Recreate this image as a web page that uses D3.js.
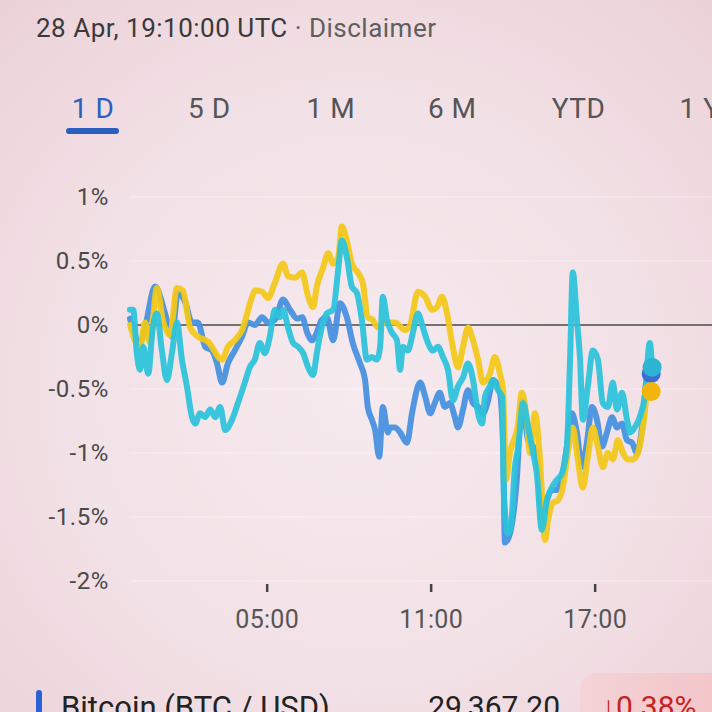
<!DOCTYPE html>
<html>
<head>
<meta charset="utf-8">
<script src="https://cdn.jsdelivr.net/npm/d3@7"></script>
<style>
  html, body { margin: 0; padding: 0; }
  body { width: 712px; height: 712px; overflow: hidden; font-family: Roboto, "Noto Sans", sans-serif; }
</style>
</head>
<body>
<div id="chart"></div>
<script>

// header + tabs
let headerDate = "28 Apr, 19:10:00 UTC"
let headerLink = " · Disclaimer"
let tabLabels = ["1 D", "5 D", "1 M", "6 M", "YTD", "1 Y"]

// axes
let yTicks = [1, 0.5, 0, -0.5, -1, -1.5, -2]
let xTickMinutes = [300, 660, 1020]
let xTickLabels = ["05:00", "11:00", "17:00"]

// [minutes since 00:00, % change]
let seriesBlue = [
  [0,0.05],[22,-0.14],[33,-0.02],[55,0.30],[77,0.09],[92,-0.09],[105,0.25],[121,0.18],[136,0.02],[149,0.02],
  [165,-0.17],[180,-0.20],[191,-0.30],[202,-0.45],[215,-0.30],[230,-0.20],[246,-0.09],[259,0.02],[274,0.00],[290,0.06],
  [303,0.02],[318,0.04],[336,0.20],[351,0.12],[367,0.05],[378,0.06],[389,-0.06],[400,-0.12],[410,-0.06],[421,0.04],
  [432,0.06],[446,-0.12],[461,0.17],[476,0.06],[489,-0.14],[505,-0.30],[516,-0.43],[522,-0.64],[531,-0.74],[538,-0.82],
  [547,-1.03],[555,-0.64],[566,-0.84],[571,-0.80],[582,-0.80],[593,-0.84],[608,-0.92],[619,-0.69],[637,-0.45],[648,-0.56],
  [659,-0.69],[669,-0.61],[680,-0.53],[691,-0.64],[702,-0.61],[713,-0.72],[720,-0.80],[731,-0.66],[742,-0.51],[753,-0.61],
  [764,-0.64],[775,-0.69],[786,-0.59],[797,-0.43],[812,-0.53],[819,-0.95],[823,-1.70],[834,-1.63],[849,-1.21],[860,-0.59],
  [874,-0.90],[885,-0.95],[896,-1.11],[904,-1.52],[915,-1.37],[926,-1.29],[937,-1.29],[948,-1.19],[959,-0.95],[970,-0.69],
  [981,-0.84],[992,-1.11],[1003,-0.92],[1014,-0.64],[1025,-0.74],[1036,-0.95],[1047,-0.84],[1058,-0.72],[1069,-0.80],[1080,-0.77],
  [1091,-0.90],[1102,-0.92],[1113,-1.00],[1124,-0.80],[1135,-0.41],[1144,-0.38]
]

let seriesYellow = [
  [0,0.00],[22,-0.18],[33,0.02],[44,-0.14],[59,0.29],[72,0.04],[88,-0.08],[103,0.29],[116,0.27],[132,-0.02],
  [149,-0.09],[171,-0.13],[202,-0.27],[215,-0.17],[230,-0.12],[246,-0.04],[268,0.22],[274,0.27],[290,0.26],[303,0.21],
  [318,0.33],[336,0.48],[347,0.38],[362,0.37],[378,0.41],[389,0.25],[402,0.14],[410,0.30],[424,0.45],[435,0.56],
  [446,0.48],[457,0.53],[465,0.77],[476,0.66],[487,0.48],[500,0.41],[511,0.33],[522,0.06],[533,0.04],[544,-0.02],
  [560,0.02],[582,0.02],[604,-0.04],[615,0.00],[632,0.26],[648,0.22],[663,0.12],[674,0.14],[685,0.22],[696,0.09],
  [707,-0.14],[720,-0.33],[731,-0.17],[742,-0.02],[753,-0.12],[764,-0.27],[775,-0.45],[790,-0.38],[801,-0.25],[812,-0.38],
  [819,-0.51],[825,-1.21],[834,-1.00],[852,-0.77],[860,-0.53],[871,-0.74],[878,-1.00],[889,-0.69],[900,-1.05],[911,-1.68],
  [918,-1.52],[928,-1.39],[939,-1.37],[950,-1.27],[961,-1.00],[972,-0.80],[983,-1.05],[994,-1.27],[1005,-1.03],[1016,-0.80],
  [1027,-0.95],[1038,-1.11],[1049,-1.00],[1060,-1.05],[1071,-0.90],[1082,-1.00],[1093,-1.05],[1104,-1.05],[1115,-1.00],[1126,-0.80],
  [1137,-0.51],[1144,-0.52]
]

let seriesCyan = [
  [0,0.12],[7,0.12],[15,-0.22],[22,-0.35],[29,-0.17],[40,-0.38],[50,-0.02],[59,0.09],[70,-0.20],[81,-0.43],
  [92,-0.22],[103,0.02],[114,-0.27],[125,-0.48],[136,-0.72],[143,-0.77],[154,-0.69],[165,-0.72],[176,-0.66],[187,-0.72],
  [198,-0.64],[209,-0.82],[224,-0.74],[237,-0.61],[252,-0.45],[263,-0.33],[274,-0.27],[285,-0.14],[296,-0.22],[307,-0.09],
  [318,0.12],[329,0.06],[336,0.12],[347,-0.02],[358,-0.14],[369,-0.17],[380,-0.22],[391,-0.33],[402,-0.39],[410,-0.22],
  [421,-0.02],[432,0.09],[446,0.12],[457,0.43],[465,0.66],[476,0.53],[487,0.30],[498,0.25],[509,0.04],[520,-0.27],
  [531,-0.25],[542,-0.27],[549,-0.17],[555,0.22],[564,0.04],[575,-0.06],[586,-0.12],[593,-0.35],[599,-0.17],[610,-0.20],
  [621,-0.06],[632,0.09],[643,-0.02],[654,-0.14],[665,-0.20],[676,-0.17],[687,-0.25],[698,-0.35],[709,-0.59],[720,-0.48],
  [731,-0.41],[742,-0.30],[753,-0.43],[764,-0.69],[773,-0.77],[779,-0.56],[790,-0.48],[797,-0.43],[808,-0.51],[817,-0.56],
  [821,-1.34],[830,-1.63],[836,-1.58],[845,-1.11],[852,-0.96],[863,-0.61],[874,-0.80],[885,-1.00],[893,-1.16],[904,-1.60],
  [915,-1.37],[926,-1.27],[937,-1.21],[948,-1.16],[959,-0.95],[966,-0.27],[972,0.41],[981,0.04],[988,-0.27],[994,-0.74],
  [1005,-0.48],[1016,-0.20],[1027,-0.27],[1038,-0.61],[1049,-0.64],[1060,-0.45],[1069,-0.66],[1080,-0.53],[1091,-0.74],[1098,-0.84],
  [1108,-0.80],[1119,-0.72],[1130,-0.56],[1141,-0.14],[1146,-0.33]
]

// bottom legend row
let legendName = "Bitcoin (BTC / USD)"
let legendPrice = "29,367.20"
let legendChange = "0.38%"

let W = 712, H = 712
let font = 'Roboto, "Noto Sans", sans-serif'

let svg = d3.select('#chart').append('svg')
  .attr('width', W).attr('height', H)
  .style('font-family', font)

let defs = svg.append('defs')
let grad = defs.append('radialGradient').attr('id', 'bg')
  .attr('cx', '0.5').attr('cy', '0.55').attr('r', '0.75')
grad.append('stop').attr('offset', '0%').attr('stop-color', '#f6eaee')
grad.append('stop').attr('offset', '55%').attr('stop-color', '#f2e1e6')
grad.append('stop').attr('offset', '100%').attr('stop-color', '#ebd1d8')

let pill = defs.append('linearGradient').attr('id', 'pill')
  .attr('x1', '0').attr('y1', '0').attr('x2', '1').attr('y2', '0')
pill.append('stop').attr('offset', '0%').attr('stop-color', '#f4d3d6')
pill.append('stop').attr('offset', '100%').attr('stop-color', '#f2c3c7')

defs.append('filter').attr('id', 'soft')
  .append('feGaussianBlur').attr('stdDeviation', 0.5)

svg.append('rect').attr('width', W).attr('height', H).attr('fill', 'url(#bg)')

// header
let head = svg.append('text').attr('x', 36).attr('y', 37)
  .style('font-size', '26px').style('letter-spacing', '0.5px')
head.append('tspan').attr('fill', '#3a3a3a').text(headerDate)
head.append('tspan').attr('fill', '#5f5f5f').text(headerLink)

// tabs
let tabX = d3.scalePoint().domain(tabLabels).range([93, 700])

svg.selectAll('text.tab')
  .data(tabLabels)
  .join('text')
  .attr('class', 'tab')
  .attr('x', (d, i) => tabX(d) - (i > 0 && i < 4 ? 5 : 0))
  .attr('y', 118)
  .attr('text-anchor', 'middle')
  .style('font-size', '28px')
  .style('letter-spacing', '0.5px')
  .attr('fill', (d, i) => i == 0 ? '#2c5fbd' : '#555')
  .text(d => d)

svg.append('rect')
  .attr('x', 66).attr('y', 128).attr('width', 53).attr('height', 6).attr('rx', 3)
  .attr('fill', '#2c5fbd')

// scales
let x = d3.scaleLinear().domain([0, 1440]).range([130, 786])
let y = d3.scaleLinear().domain([-2, 1]).range([581, 197])

// grid
svg.append('g').selectAll('line')
  .data(yTicks.filter(d => d != 0))
  .join('line')
  .attr('x1', 130).attr('x2', W)
  .attr('y1', d => y(d)).attr('y2', d => y(d))
  .attr('stroke', '#fbf5f7').attr('stroke-width', 1).attr('opacity', 0.6)

// y axis labels (plain hyphen minus like the app)
let yAxis = d3.axisLeft(y)
  .tickValues(yTicks)
  .tickSize(0)
  .tickPadding(21)
  .tickFormat(d => String(d) + '%')

let gy = svg.append('g').attr('transform', 'translate(130,0)').call(yAxis)
gy.select('.domain').remove()
gy.selectAll('text')
  .style('font-size', '24px')
  .style('letter-spacing', '0.6px')
  .style('font-family', font)
  .attr('fill', '#4a4a4a')

// zero line
svg.append('line')
  .attr('x1', 130).attr('x2', W)
  .attr('y1', y(0)).attr('y2', y(0))
  .attr('stroke', '#4a4a4a').attr('stroke-width', 1.5)

// x axis
let xAxis = d3.axisBottom(x)
  .tickValues(xTickMinutes)
  .tickSize(8)
  .tickPadding(18)
  .tickFormat((d, i) => xTickLabels[i])

let gx = svg.append('g').attr('transform', 'translate(0,584)').call(xAxis)
gx.select('.domain').remove()
gx.selectAll('.tick line').attr('stroke', '#444').attr('stroke-width', 2.5)
gx.selectAll('text')
  .style('font-size', '25px')
  .style('letter-spacing', '0.3px')
  .style('font-family', font)
  .attr('fill', '#555')

// lines
let line = d3.line()
  .x(d => x(d[0]))
  .y(d => y(d[1]))
  .curve(d3.curveMonotoneX)

let all_series = [
  {data: seriesBlue, color: '#4a91e0', dot: '#3c6fd6'},
  {data: seriesYellow, color: '#f2c81a', dot: '#f3b50c'},
  {data: seriesCyan, color: '#2ec3db', dot: '#2db4d4'}
]

svg.append('g').attr('filter', 'url(#soft)').selectAll('path')
  .data(all_series)
  .join('path')
  .attr('d', d => line(d.data))
  .attr('fill', 'none')
  .attr('stroke', d => d.color)
  .attr('stroke-width', 6)
  .attr('stroke-linejoin', 'round')
  .attr('stroke-linecap', 'round')
  .attr('opacity', 0.95)

// end dots
svg.append('g').selectAll('circle')
  .data(all_series)
  .join('circle')
  .attr('cx', d => x(d.data[d.data.length - 1][0]))
  .attr('cy', d => y(d.data[d.data.length - 1][1]))
  .attr('r', 9.5)
  .attr('fill', d => d.dot)

// legend row
svg.append('rect')
  .attr('x', 36).attr('y', 690).attr('width', 6).attr('height', 30).attr('rx', 3)
  .attr('fill', '#2a62d6')

svg.append('text')
  .attr('x', 61).attr('y', 718)
  .style('font-size', '31px')
  .attr('fill', '#222')
  .text(legendName)

svg.append('text')
  .attr('x', 560).attr('y', 717)
  .attr('text-anchor', 'end')
  .style('font-size', '30px')
  .attr('fill', '#222')
  .text(legendPrice)

svg.append('rect')
  .attr('x', 580).attr('y', 673).attr('width', 160).attr('height', 70).attr('rx', 16)
  .attr('fill', 'url(#pill)')

svg.append('text')
  .attr('x', 601).attr('y', 717)
  .style('font-size', '30px')
  .attr('fill', '#c5221f')
  .text('\u2193' + legendChange)

</script>
</body>
</html>
